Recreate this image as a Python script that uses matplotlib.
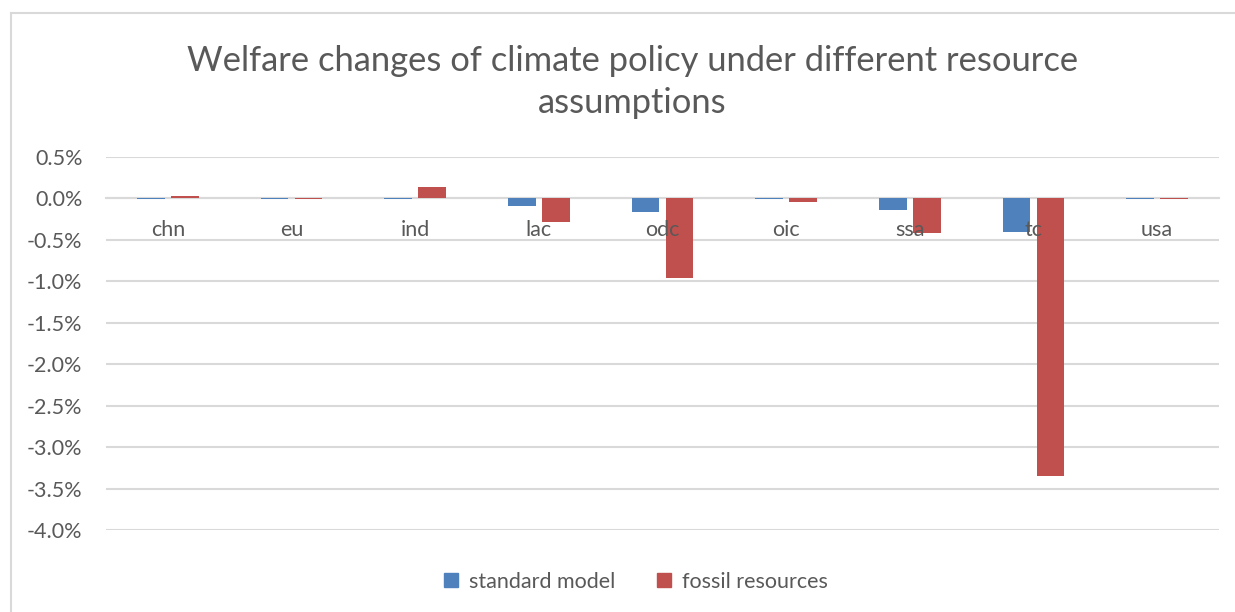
import matplotlib
matplotlib.use("Agg")
import matplotlib.pyplot as plt
import numpy as np
from matplotlib.lines import Line2D

categories = ["chn", "eu", "ind", "lac", "odc", "oic", "ssa", "tc", "usa"]
standard_model = [-0.01, -0.01, -0.01, -0.09, -0.16, -0.01, -0.14, -0.40, -0.01]
fossil_resources = [0.035, -0.01, 0.14, -0.29, -0.96, -0.04, -0.42, -3.35, -0.01]
y_ticks = [0.5, 0.0, -0.5, -1.0, -1.5, -2.0, -2.5, -3.0, -3.5, -4.0]
title = "Welfare changes of climate policy under different resource\nassumptions"

plt.rcParams['font.family'] = ['Lato', 'DejaVu Sans']
txt = "#595959"
blue = "#4F81BD"
red = "#C0504D"
grid = "#D9D9D9"
fs = 15.5

fig = plt.figure(figsize=(12.35, 6.12), dpi=100)
ax = fig.add_axes([106/1235, 1-530/612, (1219-106)/1235, (530-157)/612])

x = np.arange(len(categories))
w = 0.225
off = 0.137
ax.bar(x - off, standard_model, w, color=blue, zorder=3)
ax.bar(x + off, fossil_resources, w, color=red, zorder=3)

ax.set_xlim(-0.5, len(categories) - 0.5)
ax.set_ylim(-4.0, 0.5)
ax.set_yticks(y_ticks)
ax.set_yticklabels([f"{v:.1f}%" for v in y_ticks])
ax.yaxis.grid(True, color=grid, linewidth=1.5, zorder=0)
ax.set_axisbelow(True)
for s in ["top", "right", "left"]:
    ax.spines[s].set_visible(False)
ax.spines["bottom"].set_position(("data", 0))
ax.spines["bottom"].set_color(grid)
ax.spines["bottom"].set_linewidth(1.5)
ax.set_xticks([])
ax.tick_params(axis="y", length=0, pad=17, labelsize=fs, labelcolor=txt)

for xi, c in zip(x, categories):
    ax.annotate(c, xy=(xi, 0), xytext=(0, -23), textcoords="offset points",
                ha="center", va="center", fontsize=fs, color=txt, zorder=5)

fig.text(0.512, 1-82/612, title, ha="center", va="center", fontsize=24.8,
         color=txt, linespacing=1.36)

handles = [Line2D([], [], marker="s", linestyle="none", markersize=10, color=blue),
           Line2D([], [], marker="s", linestyle="none", markersize=10, color=red)]
fig.legend(handles, ["standard model", "fossil resources"], loc="center",
           bbox_to_anchor=(634/1235, 1-582/612), ncol=2, frameon=False,
           fontsize=fs, labelcolor=txt, handletextpad=0.3, columnspacing=1.8,
           handlelength=1.0)

# chart border (top and left)
fig.add_artist(Line2D([11/1235, 1], [1-13/612, 1-13/612], color=grid, linewidth=1.5))
fig.add_artist(Line2D([11/1235, 11/1235], [0, 1-13/612], color=grid, linewidth=1.5))

fig.savefig("out.png", dpi=100, facecolor="white")
